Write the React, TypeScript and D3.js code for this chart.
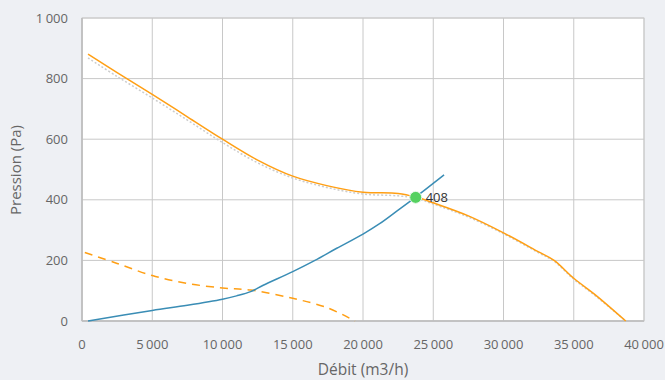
import React from "react";
import * as d3 from "d3";

const fanQ = [430, 2500, 5000, 7500, 10000, 12500, 15000, 17500, 20000, 22500, 23750, 25000, 27500, 30000, 32500, 33600, 35000, 36600, 38700];
const fanP = [881, 820, 748, 674, 600, 531, 478, 446, 425, 421, 409, 390, 347, 291, 228, 200, 141, 84, 0];
const refP = [868, 807, 736, 663, 589, 522, 472, 440, 419, 413, 405, 386, 343, 288, 225, 197, 138, 81, 0];
const dashQ = [200, 2500, 5000, 7500, 10000, 12000, 15000, 17500, 19430];
const dashP = [226, 190, 150, 124, 109, 102, 75, 43, 0];
const sysQ = [430, 5000, 7500, 10000, 11000, 12000, 12900, 15000, 16580, 18130, 20000, 21210, 22500, 23750, 25770];
const sysP = [0, 35, 52, 72, 83, 97, 118, 163, 200, 240, 287, 322, 366, 409, 482];
const opQ = [23750];
const opP = [408];
const xTicks = [0, 5000, 10000, 15000, 20000, 25000, 30000, 35000, 40000];
const yTicks = [0, 200, 400, 600, 800, 1000];

const W = 665, H = 380;
const L = 82, R = 644, T = 18, B = 321;

const parts = (v: number) => d3.format(",")(v).split(",");

export default function App() {
  const x = d3.scaleLinear().domain([0, 40000]).range([L, R]);
  const y = d3.scaleLinear().domain([0, 1000]).range([B, T]);
  const line = d3
    .line<[number, number]>()
    .x((d) => x(d[0]))
    .y((d) => y(d[1]))
    .curve(d3.curveCatmullRom.alpha(0.5));
  const zip = (a: number[], b: number[]) => a.map((v, i) => [v, b[i]] as [number, number]);
  const orange = "#ff9f14";
  const blue = "#3a8db5";
  const font = "'Open Sans', 'Noto Sans', sans-serif";
  const label = (v: number) => {
    const p = parts(v);
    return p.map((s, i) => (
      <tspan key={i} dx={i > 0 ? 2.5 : 0}>
        {s}
      </tspan>
    ));
  };
  return (
    <svg width={W} height={H} style={{ position: "absolute", left: 0, top: 0 }} fontFamily={font}>
      <rect x={0} y={0} width={W} height={H} fill="#eef0f4" />
      <rect x={L} y={T} width={R - L} height={B - T} fill="#ffffff" stroke="#cfcfcf" />
      {xTicks.map((t) => (
        <line key={"gx" + t} x1={x(t)} x2={x(t)} y1={T} y2={B} stroke="#c8c8c8" strokeWidth={1} />
      ))}
      {yTicks.map((t) => (
        <line key={"gy" + t} x1={L} x2={R} y1={y(t)} y2={y(t)} stroke="#c8c8c8" strokeWidth={1} />
      ))}
      <line x1={L} x2={L} y1={T} y2={B} stroke="#bdbdbd" strokeWidth={1.5} />
      <line x1={L} x2={R} y1={B} y2={B} stroke="#bdbdbd" strokeWidth={1.5} />
      {yTicks.map((t) => (
        <text key={"ty" + t} x={68} y={y(t)} dy="0.35em" textAnchor="end" fontSize={13} fill="#666">
          {label(t)}
        </text>
      ))}
      {xTicks.map((t) => (
        <text key={"tx" + t} x={x(t)} y={344} dy="0.35em" textAnchor="middle" fontSize={13} fill="#666">
          {label(t)}
        </text>
      ))}
      <text x={(L + R) / 2} y={370} dy="0.35em" textAnchor="middle" fontSize={15.5} fill="#666">
        Débit (m3/h)
      </text>
      <text transform={`translate(16,170) rotate(-90)`} dy="0.35em" textAnchor="middle" fontSize={15} fill="#666">
        Pression (Pa)
      </text>
      <path d={line(zip(fanQ, refP)) || ""} fill="none" stroke="#cccccc" strokeWidth={1.5} strokeDasharray="2,2" />
      <path d={line(zip(dashQ, dashP)) || ""} fill="none" stroke={orange} strokeWidth={1.5} strokeDasharray="8,6" />
      <path d={line(zip(sysQ, sysP)) || ""} fill="none" stroke={blue} strokeWidth={1.5} />
      <path d={line(zip(fanQ, fanP)) || ""} fill="none" stroke={orange} strokeWidth={1.5} />
      {opQ.map((q, i) => (
        <g key={"op" + i}>
          <circle cx={x(q)} cy={y(opP[i])} r={6} fill="#55d160" stroke="#e8f8ea" strokeWidth={1} />
          <text x={x(q) + 10} y={y(opP[i])} dy="0.35em" fontSize={13} fill="#333">
            {opP[i]}
          </text>
        </g>
      ))}
    </svg>
  );
}
